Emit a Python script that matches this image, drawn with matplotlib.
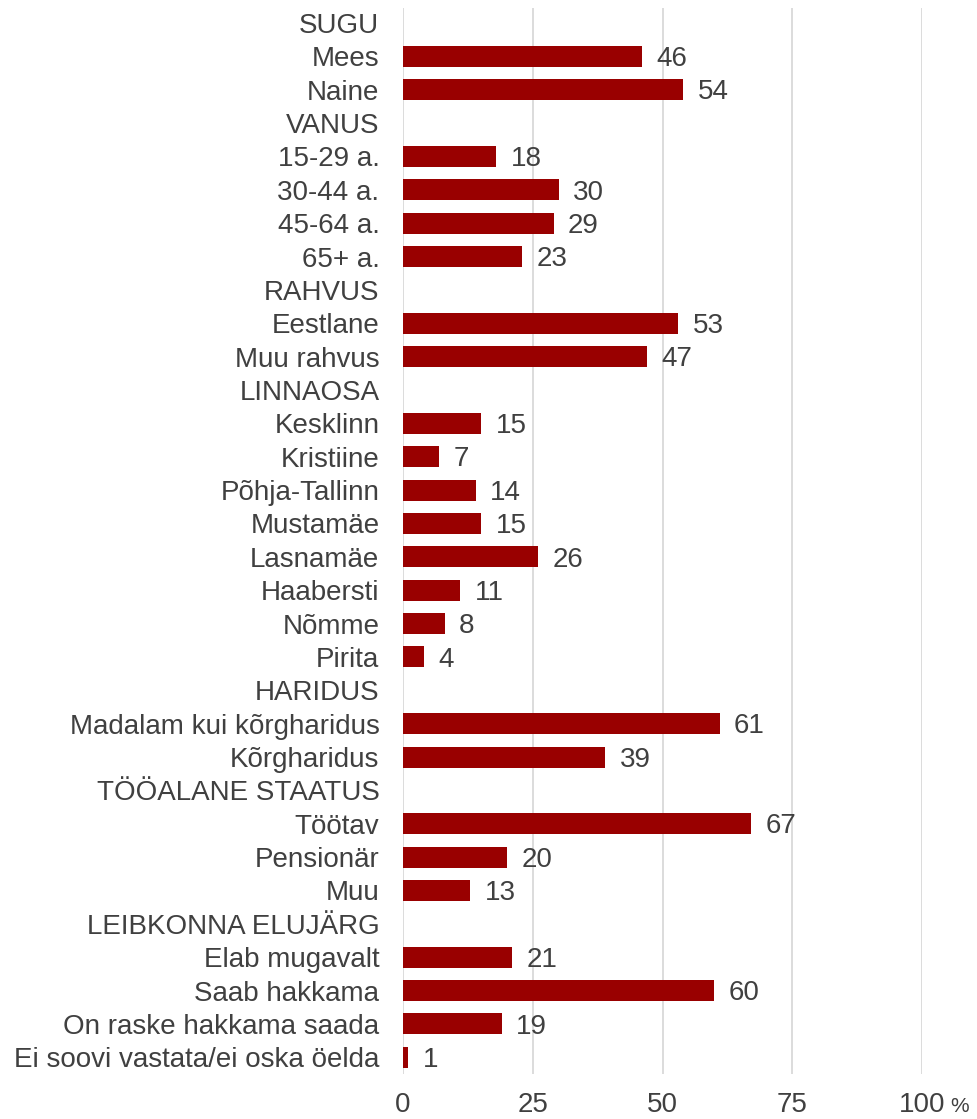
import numpy as np
import matplotlib.pyplot as plt

plt.rcParams['font.family'] = ['Liberation Sans', 'DejaVu Sans']

labels = ['SUGU', 'Mees', 'Naine',
          'VANUS', '15-29 a.', '30-44 a.', '45-64 a.', '65+ a.',
          'RAHVUS', 'Eestlane', 'Muu rahvus',
          'LINNAOSA', 'Kesklinn', 'Kristiine', 'Põhja-Tallinn', 'Mustamäe',
          'Lasnamäe', 'Haabersti', 'Nõmme', 'Pirita',
          'HARIDUS', 'Madalam kui kõrgharidus', 'Kõrgharidus',
          'TÖÖALANE STAATUS', 'Töötav', 'Pensionär', 'Muu',
          'LEIBKONNA ELUJÄRG', 'Elab mugavalt', 'Saab hakkama',
          'On raske hakkama saada', 'Ei soovi vastata/ei oska öelda']
values = [None, 46, 54,
          None, 18, 30, 29, 23,
          None, 53, 47,
          None, 15, 7, 14, 15, 26, 11, 8, 4,
          None, 61, 39,
          None, 67, 20, 13,
          None, 21, 60, 19, 1]
xticks = [0, 25, 50, 75, 100]

txt = '#404040'
red = '#990000'

fig = plt.figure(figsize=(9.77, 11.19), dpi=100)
ax = fig.add_axes([403/977, 1 - 1074/1119, 519/977, (1074 - 8)/1119])

y = np.arange(len(labels))
vals = np.array([np.nan if v is None else v for v in values], dtype=float)
ax.barh(y, np.nan_to_num(vals), height=0.63, color=red, zorder=3)
for yi, v in zip(y, values):
    if v is not None:
        ax.text(v + 2.8, yi + 0.08, str(v), va='center', ha='left',
                fontsize=20, color=txt)

ax.set_xlim(0, 100)
ax.set_ylim(len(labels) - 0.5, -0.45)
ax.set_yticks(y)
ax.set_yticklabels(labels, fontsize=20, color=txt)
ax.set_xticks(xticks)
ax.set_xticklabels([str(t) for t in xticks], fontsize=20, color=txt)
ax.tick_params(axis='y', length=0, pad=17)
ax.tick_params(axis='x', length=0, pad=13)
ax.grid(axis='x', color='#d9d9d9', linewidth=1.3, zorder=0)
for s in ax.spines.values():
    s.set_visible(False)

fig.text(960/977, 1 - 1107/1119, '%', fontsize=15, color=txt,
         ha='center', va='center')

fig.savefig('out.png', dpi=100)
